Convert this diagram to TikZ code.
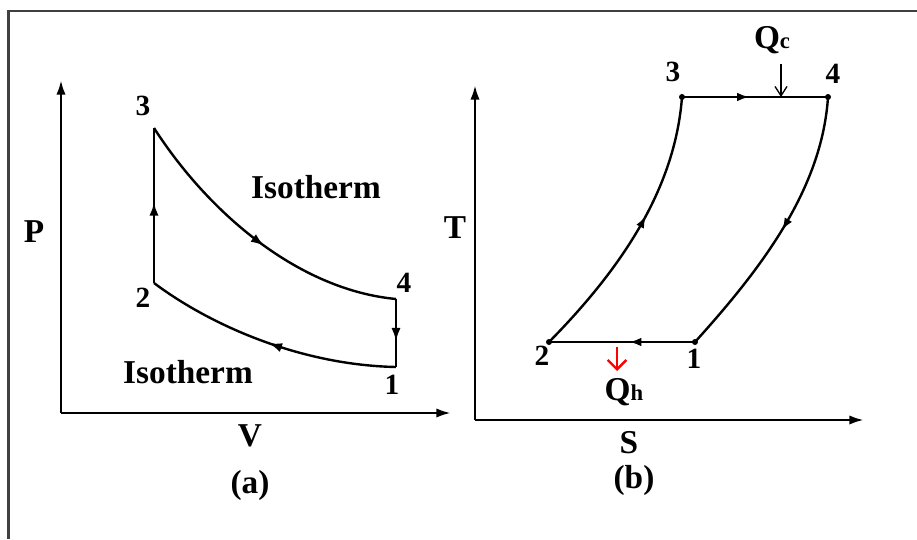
\documentclass[tikz,border=0pt]{standalone}
\usepackage{fontspec}
\setmainfont{Liberation Serif}
\usetikzlibrary{arrows.meta,decorations.markings}
\begin{document}
\begin{tikzpicture}[x=0.75pt,y=-0.75pt,
  lbl/.style={font=\fontsize{25}{27}\selectfont\bfseries, inner sep=0pt},
  num/.style={font=\fontsize{22}{24}\selectfont\bfseries, inner sep=0pt},
  axis/.style={line width=2pt, -{Latex[length=11pt,width=7pt]}},
  cyc/.style={line width=1.8pt},
  midarrow/.style={postaction={decorate},decoration={markings,
    mark=at position #1 with {\arrow{Latex[length=10pt,width=7pt]}}}},
  midarrowb/.style={postaction={decorate},decoration={markings,
    mark=at position #1 with {\arrow{Latex[length=9pt,width=6.5pt]}}}},
  vdot/.style={circle, fill=black, inner sep=0pt, minimum size=4.5pt},
  frameline/.style={line width=1.6pt, draw=black!75}
]
\useasboundingbox (0,0) rectangle (917,539);
% frame
\coordinate (fb) at (8.5,539);
\coordinate (ftl) at (8.5,11);
\coordinate (ftr) at (917,11);
\draw[frameline] (fb) -- (ftl) -- (ftr);

% ---------- panel (a) ----------
\coordinate (oa) at (61,413);
\coordinate (ya) at (61,80);
\coordinate (xa) at (451,413);
\draw[axis] (oa) -- (ya);
\draw[axis] (oa) -- (xa);
\coordinate (a3) at (154,128);
\coordinate (a2) at (154,283);
\coordinate (a4) at (396,299);
\coordinate (a1) at (396,367);
\draw[cyc, midarrow=0.52] (a2) -- (a3);
\draw[cyc, midarrow=0.53] (a3) .. controls (210,215) and (300,290) .. (a4);
\draw[cyc, midarrow=0.62] (a4) -- (a1);
\draw[cyc, midarrow=0.5] (a1) .. controls (300,365) and (210,325) .. (a2);

\node[lbl] (P) at (34,232) {P};
\node[lbl] (V) at (250,436) {V};
\node[lbl] (capa) at (250,485) {(a)};
\node[num] (l3a) at (143,106) {3};
\node[num] (l2a) at (143,298) {2};
\node[num] (l4a) at (404,283) {4};
\node[num] (l1a) at (392,385) {1};
\node[lbl] (iso1) at (316,187) {Isotherm};
\node[lbl] (iso2) at (188,372) {Isotherm};

% ---------- panel (b) ----------
\coordinate (ob) at (475,420);
\coordinate (yb) at (475,85);
\coordinate (xb) at (864,420);
\draw[axis] (ob) -- (yb);
\draw[axis] (ob) -- (xb);
\node[vdot] (b3) at (682,97) {};
\node[vdot] (b4) at (828,97) {};
\node[vdot] (b1) at (695,342) {};
\node[vdot] (b2) at (549,342) {};
\draw[cyc, midarrowb=0.46] (b3.center) -- (b4.center);
\draw[cyc, midarrowb=0.5] (b4.center) .. controls (822,190) and (760,270) .. (b1.center);
\draw[cyc, midarrowb=0.45] (b1.center) -- (b2.center);
\draw[cyc, midarrowb=0.56] (b2.center) .. controls (620,270) and (675,190) .. (b3.center);

\node[lbl] (T) at (455,228) {T};
\node[lbl] (S) at (629,443) {S};
\node[lbl] (capb) at (634,480) {(b)};
\node[num] (l3b) at (673,72) {3};
\node[num] (l4b) at (833,74) {4};
\node[num] (l2b) at (542,356) {2};
\node[num] (l1b) at (694,359) {1};

\node[lbl, anchor=base] (Qc) at (772,48) {Q{\fontsize{17}{18}\selectfont c}};
\coordinate (qcs) at (781,64);
\coordinate (qce) at (781,97);
\draw[line width=1pt, -{Straight Barb[length=7pt,width=9pt]}] (qcs) -- (qce);

\node[lbl, anchor=base] (Qh) at (624,400) {Q{\fontsize{17}{18}\selectfont h}};
\coordinate (qhs) at (617,347);
\coordinate (qhe) at (617,371);
\draw[red, line width=1.8pt, -{Straight Barb[length=7pt,width=14pt]}] (qhs) -- (qhe);
\end{tikzpicture}
\end{document}
